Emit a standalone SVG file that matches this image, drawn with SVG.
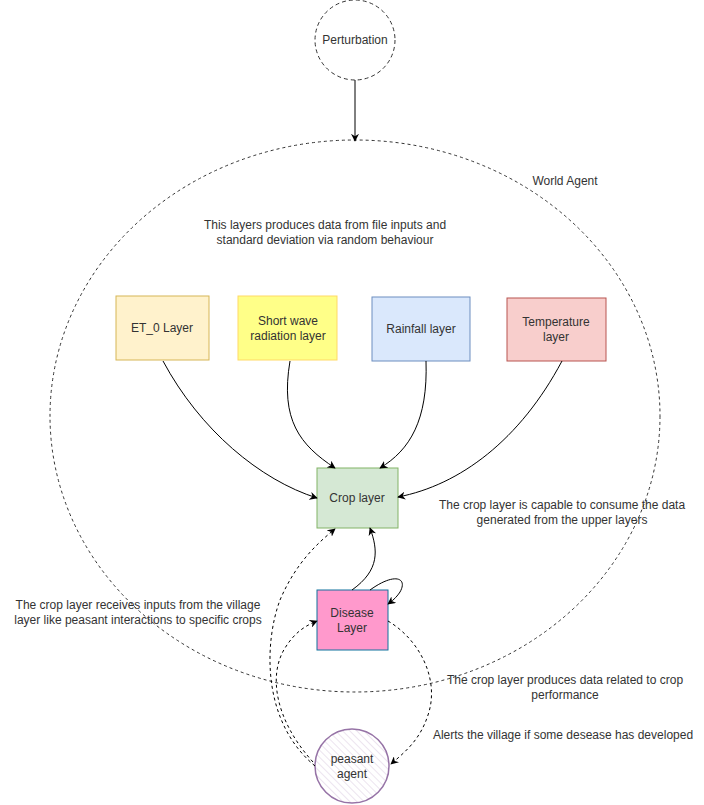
<svg xmlns="http://www.w3.org/2000/svg" width="704" height="805" viewBox="0 0 704 805">
<defs>
<style>
text{font-family:"Liberation Sans",Arial,sans-serif;font-size:12px;fill:#333;text-anchor:middle}
.line{fill:none;stroke:#000;stroke-width:1}
.dash{fill:none;stroke:#000;stroke-width:1;stroke-dasharray:3 3}
.wdash{fill:none;stroke:#333;stroke-width:1;stroke-dasharray:3 3}
</style>
<marker id="arr" viewBox="0 0 10 10" refX="9" refY="5" markerWidth="8" markerHeight="8" markerUnits="userSpaceOnUse" orient="auto">
<path d="M0,0 L10,5 L0,10 L3,5 Z" fill="#000"/>
</marker>
<pattern id="hatch" width="5" height="5" patternUnits="userSpaceOnUse" patternTransform="rotate(-45)">
<rect width="5" height="5" fill="#ffffff"/>
<line x1="0" y1="0" x2="0" y2="5" stroke="#e6dcea" stroke-width="1.5"/>
</pattern>
</defs>
<rect width="704" height="805" fill="#fff"/>
<g id="world-agent">
<ellipse cx="355" cy="416" rx="305" ry="276" class="wdash"/>
<text x="565" y="185">World Agent</text>
</g>
<g id="perturbation">
<circle cx="355" cy="40" r="40" fill="#fff" stroke="#333" stroke-dasharray="4 3"/>
<text x="355" y="44">Perturbation</text>
</g>
<g id="note-top">
<text x="325" y="229">This layers produces data from file inputs and</text>
<text x="325" y="244">standard deviation via random behaviour</text>
</g>
<g id="et0">
<rect x="116" y="296" width="93" height="64" fill="#fff2cc" stroke="#d6b656"/>
<text x="162" y="332">ET_0 Layer</text>
</g>
<g id="shortwave">
<rect x="238" y="296" width="99" height="64" fill="#ffff88" stroke="#ffd966"/>
<text x="288" y="325">Short wave</text>
<text x="288" y="340">radiation layer</text>
</g>
<g id="rainfall">
<rect x="372" y="297" width="98" height="64" fill="#dae8fc" stroke="#6c8ebf"/>
<text x="421" y="333">Rainfall layer</text>
</g>
<g id="temperature">
<rect x="507" y="298" width="99" height="63" fill="#f8cecc" stroke="#b85450"/>
<text x="556" y="326">Temperature</text>
<text x="556" y="341">layer</text>
</g>
<g id="crop">
<rect x="317" y="468" width="81" height="60" fill="#d5e8d4" stroke="#82b366"/>
<text x="357" y="502">Crop layer</text>
</g>
<g id="disease">
<rect x="317" y="590" width="71" height="60" fill="#ff99cc" stroke="#10739e"/>
<text x="352" y="617">Disease</text>
<text x="352" y="632">Layer</text>
</g>
<g id="peasant">
<circle cx="352" cy="766" r="37" fill="url(#hatch)" stroke="#9673a6" stroke-width="1.5"/>
<text x="352" y="763">peasant</text>
<text x="352" y="778">agent</text>
</g>
<g id="notes">
<text x="138" y="609">The crop layer receives inputs from the village</text>
<text x="138" y="624">layer like peasant interactions to specific crops</text>
<text x="562" y="509">The crop layer is capable to consume the data</text>
<text x="562" y="524">generated from the upper layers</text>
<text x="565" y="684">The crop layer produces data related to crop</text>
<text x="565" y="699">performance</text>
<text x="563" y="739">Alerts the village if some desease has developed</text>
</g>
<g id="connectors">
<path class="line" d="M355,80 L355,141" marker-end="url(#arr)"/>
<path class="line" d="M163,361 C200,430 260,480 317,498" marker-end="url(#arr)"/>
<path class="line" d="M290,361 C280,420 300,445 335,468" marker-end="url(#arr)"/>
<path class="line" d="M426,361 C428,420 410,450 380,468" marker-end="url(#arr)"/>
<path class="line" d="M562,361 C520,440 460,485 398,497" marker-end="url(#arr)"/>
<path class="line" d="M352,590 C380,570 378,550 370,528" marker-end="url(#arr)"/>
<path class="line" d="M370,590 C395,572 408,578 400,592 C396,598 392,601 388,604" marker-end="url(#arr)"/>
<path class="dash" d="M315,766 C260,720 265,640 280,600 C295,565 315,545 335,529" marker-end="url(#arr)"/>
<path class="dash" d="M313,762 C275,720 268,675 285,648 C295,632 305,626 317,621" marker-end="url(#arr)"/>
<path class="dash" d="M388,621 C420,640 440,680 428,715 C420,740 405,752 391,764" marker-end="url(#arr)"/>
</g>
</svg>
